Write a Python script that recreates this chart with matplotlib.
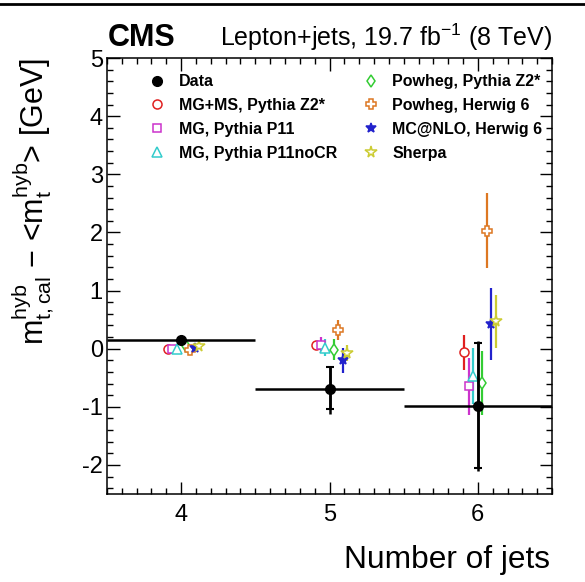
import matplotlib
matplotlib.use("Agg")
import matplotlib.pyplot as plt
from matplotlib.lines import Line2D
import numpy as np

plt.rcParams['font.family'] = ['Liberation Sans', 'DejaVu Sans']
plt.rcParams['mathtext.fontset'] = 'custom'
plt.rcParams['mathtext.rm'] = 'Liberation Sans'
plt.rcParams['mathtext.it'] = 'Liberation Sans'
plt.rcParams['mathtext.bf'] = 'Liberation Sans:bold'

# jet multiplicity bins
njets = np.array([4, 5, 6])
bin_halfwidth = np.array([0.5, 0.5, 0.5])

# data
data_y = np.array([0.155, -0.69, -0.99])
data_stat_up = np.array([0.03, 0.37, 1.08])
data_stat_dn = np.array([0.03, 0.35, 1.06])
data_tot_up = np.array([0.03, 0.40, 1.13])
data_tot_dn = np.array([0.03, 0.43, 1.11])

# simulations: label, colour, marker, x offset, values, errors
sim_labels = ["MG+MS, Pythia Z2*", "MG, Pythia P11", "MG, Pythia P11noCR",
              "Powheg, Pythia Z2*", "Powheg, Herwig 6", "MC@NLO, Herwig 6", "Sherpa"]
sim_colors = ["#e02020", "#cc33cc", "#33cccc", "#33cc33", "#dd7722", "#2222cc", "#cccc33"]
sim_markers = ["o", "s", "^", "d", "P", "*", "*"]
sim_filled = [False, False, False, False, False, True, False]
sim_msize = [6.5, 6.0, 6.5, 6.0, 7.0, 7.0, 8.5]
sim_offset = [-0.09, -0.06, -0.03, 0.03, 0.06, 0.09, 0.12]
sim_y = [
    [0.00, 0.06, -0.06],
    [0.00, 0.06, -0.65],
    [0.00, 0.02, -0.47],
    [0.05, -0.02, -0.59],
    [-0.03, 0.32, 2.03],
    [0.02, -0.20, 0.43],
    [0.05, -0.08, 0.47],
]
sim_err = [
    [0.05, 0.08, 0.30],
    [0.05, 0.14, 0.49],
    [0.05, 0.15, 0.48],
    [0.05, 0.18, 0.55],
    [0.05, 0.17, 0.65],
    [0.05, 0.21, 0.62],
    [0.05, 0.14, 0.46],
]

fig = plt.figure(figsize=(5.85, 5.82), dpi=100)
ax = fig.add_axes([0.1829, 0.1512, 0.7607, 0.7491])

handles = []
for lab, col, mk, filled, ms, off, yv, ev in zip(sim_labels, sim_colors, sim_markers,
                                                  sim_filled, sim_msize, sim_offset, sim_y, sim_err):
    xs = njets + off
    ax.errorbar(xs, yv, yerr=ev, fmt='none', ecolor=col, elinewidth=1.6, capsize=0, zorder=2)
    h, = ax.plot(xs, yv, ls='none', marker=mk, ms=ms, mec=col, mew=1.1,
                 mfc=col if filled else 'white', label=lab, zorder=3)
    handles.append(h)

# data: bin width and total error (no caps), stat error (caps)
ax.errorbar(njets, data_y, xerr=bin_halfwidth, yerr=[data_tot_dn, data_tot_up], fmt='none',
            ecolor='black', elinewidth=1.8, capsize=0, zorder=4)
ax.errorbar(njets, data_y, yerr=[data_stat_dn, data_stat_up], fmt='none',
            ecolor='black', elinewidth=1.8, capsize=2.8, capthick=1.5, zorder=4)
hd, = ax.plot(njets, data_y, ls='none', marker='o', ms=7, color='black', label='Data', zorder=5)
handles.insert(0, hd)

ax.set_xlim(3.5, 6.5)
ax.set_ylim(-2.5, 5)
ax.set_xticks([4, 5, 6])
ax.set_xticks(np.arange(3.5, 6.51, 0.1), minor=True)
ax.set_yticks(np.arange(-2, 5.1, 1))
ax.set_yticks(np.arange(-2.4, 5.01, 0.2), minor=True)
ax.set_yticklabels([str(v) for v in range(-2, 6)])
ax.tick_params(which='both', direction='in', top=True, right=True, width=1.0, labelsize=17)
ax.tick_params(which='major', length=9)
ax.tick_params(which='minor', length=4.5)
ax.tick_params(axis='x', pad=7)
ax.tick_params(axis='y', pad=3)
for s in ax.spines.values():
    s.set_linewidth(1.1)

leg = ax.legend(handles=handles, ncol=2, loc='upper left', bbox_to_anchor=(0.095, 0.963),
                frameon=False, prop={'weight': 'bold', 'size': 11.5}, handlelength=1.0,
                handletextpad=0.85, columnspacing=1.6, labelspacing=0.55, borderpad=0,
                borderaxespad=0)

fig.text(108 / 585, 1 - 46 / 582, "CMS", fontsize=22, fontweight='bold', ha='left', va='baseline')
fig.text(552 / 585, 1 - 46 / 582, "Lepton+jets, 19.7 fb$^{-1}$ (8 TeV)", fontsize=18,
         ha='right', va='baseline')
fig.text(550 / 585, 1 - 568 / 582, "Number of jets", fontsize=22.8, ha='right', va='baseline')
fig.text(33 / 585, 1 - 58 / 582,
         r"$\mathrm{m}_{\mathrm{t,cal}}^{\mathrm{hyb}}$ $-$ <$\mathrm{m}_{\mathrm{t}}^{\mathrm{hyb}}$> [GeV]",
         fontsize=22, rotation=90, ha='center', va='top')

fig.add_artist(Line2D([0, 1], [1 - 4 / 582, 1 - 4 / 582], color='black', lw=2.0))

fig.savefig("out.png", dpi=100)
